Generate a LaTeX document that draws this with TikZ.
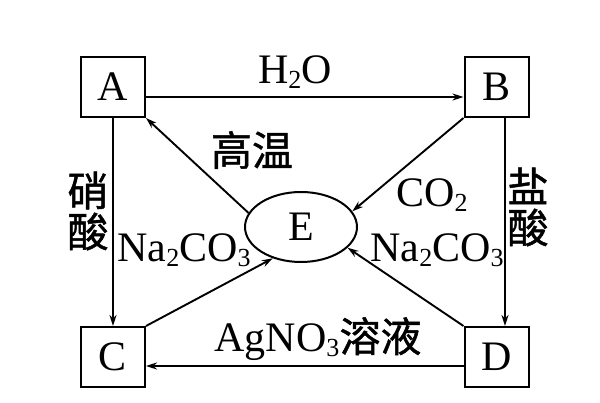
\documentclass[tikz,border=0pt]{standalone}
\usepackage{fontspec}
\setmainfont{Liberation Serif}
\newfontfamily\cjk[FakeBold=1.2]{Noto Sans CJK SC}
\usetikzlibrary{positioning, shapes.geometric, arrows.meta}
\newcommand{\chemlow}[1]{\raisebox{-0.12em}{\scalebox{0.62}{#1}}}

\begin{document}
\begin{tikzpicture}[
  x=1pt, y=-1pt,
  font=\fontsize{42}{46}\selectfont,
  box/.style={draw, line width=2pt, minimum width=64pt, minimum height=60pt, inner sep=0pt},
  oval/.style={draw, ellipse, line width=2pt, minimum width=112pt, minimum height=70pt, inner sep=0pt},
  lbl/.style={inner sep=0pt},
  zh/.style={inner sep=0pt, font=\cjk\fontsize{41}{41}\selectfont, align=center},
  arr/.style={-{Stealth[length=11pt, width=7pt]}, line width=1.9pt}
]
  \useasboundingbox (0,0) rectangle (600,403);

  \node[box] (A) at (113,87) {A};
  \node[box] (B) at (496.5,87) {B};
  \node[box] (C) at (113,357) {C};
  \node[box] (D) at (496.5,357) {D};
  \node[oval] (E) at (301,227) {E};

  \node[lbl] (h2o) at (295,72) {H\chemlow{2}O};
  \node[zh] (gw) at (252,150) {高温};
  \node[zh] (xs) at (88,211) {硝\\酸};
  \node[zh] (ys) at (528,207) {盐\\酸};
  \node[lbl] (co2) at (432,195) {CO\chemlow{2}};
  \node[lbl] (nl) at (184,250) {Na\chemlow{2}CO\chemlow{3}};
  \node[lbl] (nr) at (437,250) {Na\chemlow{2}CO\chemlow{3}};
  \node[lbl] (ag) at (318,339) {AgNO\chemlow{3}{\cjk\fontsize{41}{41}\selectfont 溶液}};

  \draw[arr] ([yshift=-10pt]A.east) -- ([yshift=-10pt]B.west);
  \draw[arr] (A.south) -- (C.north);
  \draw[arr] ([xshift=8.5pt]B.south) -- ([xshift=8.5pt]D.north);
  \draw[arr] ([yshift=-9pt]D.west) -- ([yshift=-9pt]C.east);
  \draw[arr] (E.165) -- (A.south east);
  \draw[arr] (B.south west) -- (E.17);
  \draw[arr] (C.north east) -- (E.228);
  \draw[arr] (D.north west) -- (E.336);
\end{tikzpicture}
\end{document}
